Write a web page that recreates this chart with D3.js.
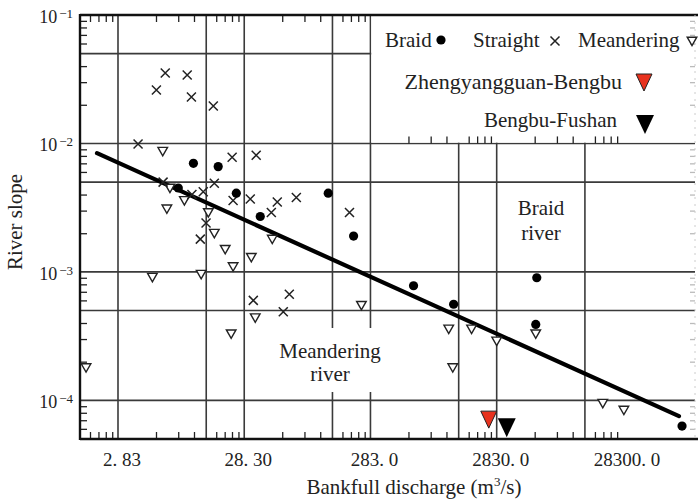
<!DOCTYPE html>
<html>
<head>
<meta charset="utf-8">
<script src="https://d3js.org/d3.v7.min.js"></script>
<style>
body { margin: 0; background: #fff; }
text { font-family: "Liberation Serif", "Times New Roman", serif; fill: #222; }
.grid line { stroke: #3a3a3a; stroke-width: 1.6; }
.minor line { stroke: #222; stroke-width: 1.3; }
.minor path { display: none; }
</style>
</head>
<body>
<div id="chart"></div>
<script>

// bankfull discharge (m3/s) and river slope
var braidQ = [11.2, 17.6, 8.5, 24.5, 37.9, 131, 208, 621, 1290, 5880, 5770, 83200];
var braidS = [0.0070, 0.0066, 0.0045, 0.0041, 0.0027, 0.0041, 0.0019, 0.00078, 0.00056, 0.00090, 0.00039, 0.000063];

var straightQ = [6.7, 10.0, 5.7, 10.8, 16.1, 4.08, 22.7, 35.2, 6.44, 16.4, 10.9, 13.4, 23.1, 31.6, 51.7, 73.2, 46.4, 14.1, 12.7, 193, 33.4, 64.4, 57.7];
var straightS = [0.0353, 0.0341, 0.0261, 0.0230, 0.0196, 0.0099, 0.0078, 0.0081, 0.0050, 0.0049, 0.0040, 0.0042, 0.0036, 0.0037, 0.0035, 0.0038, 0.0029, 0.0024, 0.0018, 0.0029, 0.00060, 0.00067, 0.00049];

var meanderQ = [6.4, 7.3, 9.5, 6.9, 14.7, 16.4, 20.0, 47.2, 32.2, 23.1, 5.3, 12.9, 22.3, 1.58, 34.6, 240, 1180, 1790, 2830, 1270, 5770, 19600, 28800];
var meanderS = [0.0087, 0.0045, 0.0036, 0.0031, 0.0029, 0.0020, 0.0015, 0.0018, 0.0013, 0.0011, 0.00091, 0.00096, 0.00033, 0.00018, 0.00044, 0.00055, 0.00036, 0.00036, 0.00029, 0.00018, 0.00033, 0.000095, 0.000084];

var zhengQ = [2450], zhengS = [0.0000714];
var fushanQ = [3400], fushanS = [0.0000618];

// regression line end points
var fitQ = [1.93, 78700];
var fitS = [0.0084, 0.0000753];

var xTickValues = [2.83, 28.3, 283, 2830, 28300];
var xTickLabels = ["2. 83", "28. 30", "283. 0", "2830. 0", "28300. 0"];
var yTickValues = [1e-1, 1e-2, 1e-3, 1e-4];
var yTickExp = ["\u22121", "\u22122", "\u22123", "\u22124"];

var W = 698, H = 503;
var mLeft = 80, mRight = 695, mTop = 15, mBottom = 439;

var svg = d3.select("#chart").append("svg")
    .attr("width", W)
    .attr("height", H);

var x = d3.scaleLog().domain([1.415, 105400]).range([mLeft, mRight]);
var y = d3.scaleLog().domain([5e-5, 1e-1]).range([mBottom, mTop]);

// grid lines: every decade (in ft3/s) and the 5x line
var xGrid = [], xMinor = [];
for (var k = -1; k <= 5; k++) {
    var base = 0.0283 * Math.pow(10, k);
    [1, 2, 3, 4, 5, 6, 7, 8, 9].forEach(function(m) {
        var v = base * m;
        if (v <= x.domain()[0] * 1.001 || v >= x.domain()[1]) return;
        if (m == 1 || m == 5) xGrid.push(v); else xMinor.push(v);
    });
}
var yGrid = [], yMinor = [];
for (var k = -5; k <= -2; k++) {
    var base = Math.pow(10, k);
    [1, 2, 3, 4, 5, 6, 7, 8, 9].forEach(function(m) {
        var v = base * m;
        if (v <= 5.001e-5 || v >= 0.0999) return;
        if (m == 1 || m == 5) yGrid.push(v); else yMinor.push(v);
    });
}

var grid = svg.append("g").attr("class", "grid");
grid.selectAll(".vx").data(xGrid).enter().append("line")
    .attr("x1", function(d) { return x(d); })
    .attr("x2", function(d) { return x(d); })
    .attr("y1", mTop).attr("y2", mBottom);
grid.selectAll(".hy").data(yGrid).enter().append("line")
    .attr("x1", mLeft).attr("x2", mRight)
    .attr("y1", function(d) { return y(d); })
    .attr("y2", function(d) { return y(d); });

var legendEdgeX = x(283), legendEdgeY = y(1e-2);

// white boxes for the legend and the meandering label
svg.append("rect")
    .attr("x", legendEdgeX + 0.8).attr("y", mTop)
    .attr("width", W - legendEdgeX).attr("height", legendEdgeY - mTop - 0.8)
    .attr("fill", "#fff");
svg.append("rect")
    .attr("x", 262).attr("y", 328)
    .attr("width", 180).attr("height", 64)
    .attr("fill", "#fff");

// minor ticks
svg.append("g").attr("class", "minor")
    .attr("transform", "translate(0," + mBottom + ")")
    .call(d3.axisBottom(x).tickValues(xMinor).tickSize(-7).tickFormat(""));
svg.append("g").attr("class", "minor")
    .attr("transform", "translate(0," + mTop + ")")
    .call(d3.axisTop(x).tickValues(xMinor.filter(function(d) { return x(d) < legendEdgeX; }))
        .tickSize(-7).tickFormat(""));
svg.append("g").attr("class", "minor")
    .attr("transform", "translate(0," + legendEdgeY + ")")
    .call(d3.axisBottom(x).tickValues(xMinor.filter(function(d) { return x(d) > legendEdgeX; }))
        .tickSize(-7).tickFormat(""));
svg.append("g").attr("class", "minor")
    .attr("transform", "translate(" + mLeft + ",0)")
    .call(d3.axisLeft(y).tickValues(yMinor).tickSize(-7).tickFormat(""));
svg.append("g").attr("class", "minor")
    .attr("transform", "translate(" + mRight + ",0)")
    .call(d3.axisRight(y).tickValues(yMinor).tickSize(-5).tickFormat(""))
    .selectAll("line").style("stroke", "#bbb");

// frame
svg.append("line").attr("x1", mLeft).attr("x2", mLeft).attr("y1", mTop - 1).attr("y2", mBottom + 1)
    .attr("stroke", "#111").attr("stroke-width", 2.4);
svg.append("line").attr("x1", mLeft).attr("x2", W).attr("y1", mBottom).attr("y2", mBottom)
    .attr("stroke", "#111").attr("stroke-width", 2.4);
svg.append("line").attr("x1", mLeft).attr("x2", W).attr("y1", mTop).attr("y2", mTop)
    .attr("stroke", "#111").attr("stroke-width", 2.4);
svg.append("line").attr("x1", mRight).attr("x2", mRight).attr("y1", mTop).attr("y2", mBottom)
    .attr("stroke", "#ccc").attr("stroke-width", 1).attr("stroke-dasharray", "2,5");

// tick labels
svg.selectAll(".xlab").data(xTickValues).enter().append("text")
    .attr("x", function(d) { return x(d) + 4; })
    .attr("y", 466)
    .attr("text-anchor", "middle")
    .style("font-size", "19px")
    .text(function(d, i) { return xTickLabels[i]; });

var ylab = svg.selectAll(".ylab").data(yTickValues).enter().append("text")
    .attr("x", 73)
    .attr("y", function(d) { return y(d) + 8; })
    .attr("text-anchor", "end")
    .style("font-size", "18px");
ylab.append("tspan").text("10");
ylab.append("tspan")
    .attr("dy", -5)
    .attr("dx", 2)
    .style("font-size", "13px")
    .text(function(d, i) { return yTickExp[i]; });

// axis titles
var xt = svg.append("text")
    .attr("x", 414).attr("y", 494)
    .attr("text-anchor", "middle")
    .style("font-size", "21px");
xt.append("tspan").text("Bankfull discharge (m");
xt.append("tspan").attr("dy", -8).style("font-size", "13px").text("3");
xt.append("tspan").attr("dy", 8).text("/s)");

svg.append("text")
    .attr("transform", "translate(22,222) rotate(-90)")
    .attr("text-anchor", "middle")
    .style("font-size", "21px")
    .text("River slope");

// regression line
svg.append("path")
    .datum(d3.range(fitQ.length))
    .attr("d", d3.line()
        .x(function(i) { return x(fitQ[i]); })
        .y(function(i) { return y(fitS[i]); }))
    .attr("fill", "none")
    .attr("stroke", "#000")
    .attr("stroke-width", 4.2)
    .attr("stroke-linecap", "round");

// markers
var crossPath = "M-4.5,-4.5L4.5,4.5M-4.5,4.5L4.5,-4.5";
var triPath = "M-4.8,-3.8L4.8,-3.8L0,4.6Z";
var bigTri = "M-8,-8L8,-8L0,9Z";

svg.selectAll(".meander").data(d3.range(meanderQ.length)).enter().append("path")
    .attr("transform", function(i) { return "translate(" + x(meanderQ[i]) + "," + y(meanderS[i]) + ")"; })
    .attr("d", triPath)
    .attr("fill", "#fff")
    .attr("stroke", "#222")
    .attr("stroke-width", 1.4);

svg.selectAll(".straight").data(d3.range(straightQ.length)).enter().append("path")
    .attr("transform", function(i) { return "translate(" + x(straightQ[i]) + "," + y(straightS[i]) + ")"; })
    .attr("d", crossPath)
    .attr("fill", "none")
    .attr("stroke", "#222")
    .attr("stroke-width", 1.5);

svg.selectAll(".braid").data(d3.range(braidQ.length)).enter().append("circle")
    .attr("cx", function(i) { return x(braidQ[i]); })
    .attr("cy", function(i) { return y(braidS[i]); })
    .attr("r", 4.6)
    .attr("fill", "#000");

svg.selectAll(".zheng").data(d3.range(zhengQ.length)).enter().append("path")
    .attr("transform", function(i) { return "translate(" + x(zhengQ[i]) + "," + y(zhengS[i]) + ")"; })
    .attr("d", bigTri)
    .attr("fill", "#e8321e")
    .attr("stroke", "#222")
    .attr("stroke-width", 1);

svg.selectAll(".fushan").data(d3.range(fushanQ.length)).enter().append("path")
    .attr("transform", function(i) { return "translate(" + x(fushanQ[i]) + "," + y(fushanS[i]) + ")"; })
    .attr("d", "M-9,-9L9,-9L0,10Z")
    .attr("fill", "#000");

// region labels
function label(txt, cx, cy) {
    svg.append("text").attr("x", cx).attr("y", cy)
        .attr("text-anchor", "middle")
        .style("font-size", "21px")
        .text(txt);
}
label("Meandering", 330, 358);
label("river", 330, 381);
label("Braid", 541, 215);
label("river", 541, 240);

// legend
var lg = svg.append("g").style("font-size", "21px");
lg.append("text").attr("x", 385).attr("y", 47).text("Braid");
lg.append("circle").attr("cx", 441).attr("cy", 40).attr("r", 4.6).attr("fill", "#000");
lg.append("text").attr("x", 473).attr("y", 47).text("Straight");
lg.append("path").attr("transform", "translate(555,41)").attr("d", crossPath)
    .attr("fill", "none").attr("stroke", "#222").attr("stroke-width", 1.5);
lg.append("text").attr("x", 578).attr("y", 47).text("Meandering");
lg.append("path").attr("transform", "translate(692,41)").attr("d", triPath)
    .attr("fill", "#fff").attr("stroke", "#222").attr("stroke-width", 1.4);
lg.append("text").attr("x", 622).attr("y", 89).attr("text-anchor", "end")
    .style("font-size", "22px").text("Zhengyangguan-Bengbu");
lg.append("path").attr("transform", "translate(644,82)").attr("d", bigTri)
    .attr("fill", "#e8321e").attr("stroke", "#222").attr("stroke-width", 1);
lg.append("text").attr("x", 617).attr("y", 127).attr("text-anchor", "end").text("Bengbu-Fushan");
lg.append("path").attr("transform", "translate(645,124)").attr("d", "M-9,-9L9,-9L0,10Z")
    .attr("fill", "#000");

</script>
</body>
</html>
